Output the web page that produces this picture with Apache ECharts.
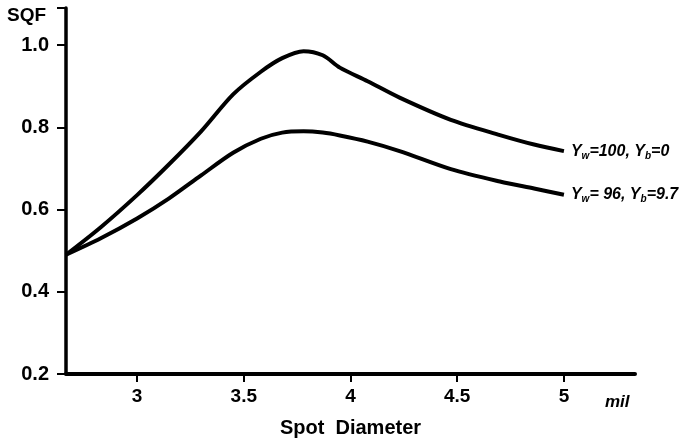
<!DOCTYPE html>
<html>
<head>
<meta charset="utf-8">
<script src="https://cdn.jsdelivr.net/npm/echarts@6/dist/echarts.min.js"></script>
<style>
  html, body { margin: 0; padding: 0; background: #fff; }
  #chart { width: 683px; height: 443px; }
</style>
</head>
<body>
<div id="chart"></div>
<script>
// SQF vs spot diameter, two curves
var diam = [2.667, 2.83, 3.0, 3.15, 3.3, 3.45, 3.58, 3.68, 3.78, 3.87, 3.95, 4.08, 4.23, 4.47, 4.7, 4.86, 5.0]
var sqf_w100 = [0.49, 0.557, 0.635, 0.71, 0.79, 0.88, 0.935, 0.968, 0.985, 0.975, 0.945, 0.912, 0.872, 0.818, 0.781, 0.758, 0.742]
var sqf_w96 = [0.49, 0.53, 0.578, 0.627, 0.683, 0.738, 0.772, 0.787, 0.79, 0.787, 0.78, 0.765, 0.742, 0.698, 0.668, 0.651, 0.636]
var xticks = [3, 3.5, 4, 4.5, 5]
var names = ['Y{s|w}=100, Y{s|b}=0', 'Y{s|w}= 96, Y{s|b}=9.7']

function pairs (xs, ys) {
  var out = []
  for (var i = 0; i < xs.length; i++) {
    out.push([xs[i], ys[i]])
  }
  return out
}

var font = '"Liberation Sans", Arial, sans-serif'
var richSub = {
  s: { fontSize: 10, fontStyle: 'italic', fontWeight: 'bold', fontFamily: font, color: '#000', padding: [10, 0, 0, 0] }
}

function mkSeries (ys, label) {
  return {
    type: 'line',
    data: pairs(diam, ys),
    smooth: 0.3,
    symbol: 'none',
    lineStyle: { color: '#000', width: 4 },
    endLabel: {
      show: true,
      distance: 7,
      formatter: label,
      color: '#000',
      fontFamily: font,
      fontSize: 16,
      fontStyle: 'italic',
      fontWeight: 'bold',
      rich: richSub
    }
  }
}

var chart = echarts.init(document.getElementById('chart'))

var option = {
  animation: false,
  backgroundColor: '#fff',
  grid: { left: 66, right: 48, top: 8, bottom: 65 },
  xAxis: {
    type: 'value',
    min: 2.667,
    max: 5.333,
    splitLine: { show: false },
    axisLine: { lineStyle: { color: '#000', width: 4 } },
    axisTick: { customValues: xticks, length: 8, lineStyle: { color: '#000', width: 2 } },
    axisLabel: {
      customValues: xticks,
      margin: 13,
      color: '#000',
      fontFamily: font,
      fontWeight: 'bold',
      fontSize: 19
    },
    name: 'Spot  Diameter',
    nameLocation: 'middle',
    nameGap: 44,
    nameTextStyle: { color: '#000', fontFamily: font, fontWeight: 'bold', fontSize: 20 }
  },
  yAxis: {
    type: 'value',
    min: 0.2,
    max: 1.09,
    interval: 0.2,
    splitLine: { show: false },
    axisLine: { show: true, lineStyle: { color: '#000', width: 3.5 } },
    axisTick: { show: true, length: 9, lineStyle: { color: '#000', width: 2 } },
    axisLabel: {
      margin: 17,
      color: '#000',
      fontFamily: font,
      fontWeight: 'bold',
      fontSize: 20,
      formatter: function (v) { return v > 1.05 ? '' : v.toFixed(1) }
    }
  },
  graphic: [
    { type: 'text', left: 7, top: 6, style: { text: 'SQF', fill: '#000', font: 'bold 19px ' + font } },
    { type: 'text', left: 605, top: 394, style: { text: 'mil', fill: '#000', font: 'italic bold 17px ' + font } }
  ],
  series: [mkSeries(sqf_w100, names[0]), mkSeries(sqf_w96, names[1])]
}

chart.setOption(option)
</script>
</body>
</html>
